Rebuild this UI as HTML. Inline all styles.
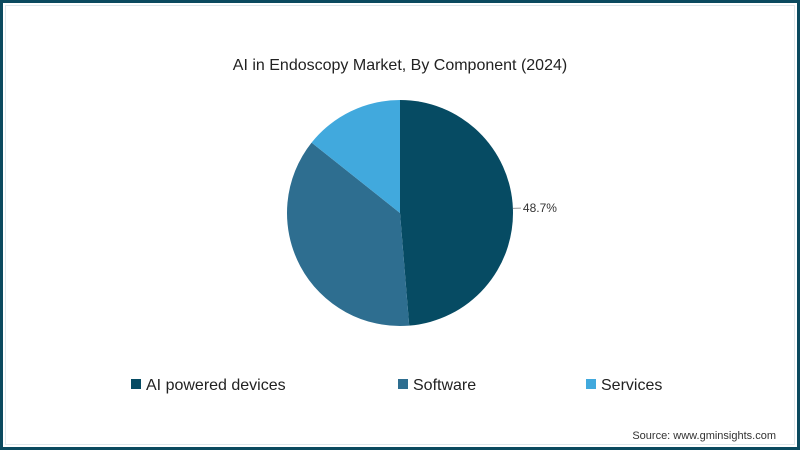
<!DOCTYPE html>
<html><head><meta charset="utf-8"><style>
body{margin:0;background:#fff}
#f{position:relative;width:800px;height:450px;box-sizing:border-box;border:3px solid #0b4a5f;background:#fff;font-family:"Liberation Sans",sans-serif;overflow:hidden}
#inner{position:absolute;left:2px;top:2px;right:2px;bottom:2px;border:1px solid #dfe8ec}
</style></head><body>
<div id="f">
<div id="inner"></div>
<svg id="s" width="794" height="444" style="position:absolute;left:0;top:0">
<text x="397" y="67" text-anchor="middle" font-size="16" fill="#222">AI in Endoscopy Market, By Component (2024)</text>
<g id="slices"></g>
<text x="773" y="436" text-anchor="end" font-size="11" fill="#333">Source: www.gminsights.com</text>
</svg>
</div>
<script>
const categories=["AI powered devices","Software","Services"];
const values=[48.7,37.0,14.3];
const labels=["48.7%","",""];
const colors=["#064b63","#2e6e90","#41a9dd"];
const cx=397,cy=210,r=113;
const svg=document.getElementById('s'),g=document.getElementById('slices');
const NS="http://www.w3.org/2000/svg";
const total=values.reduce((a,b)=>a+b,0);
let a0=0;
function pt(a,rr){return [cx+rr*Math.sin(a),cy-rr*Math.cos(a)];}
values.forEach((v,i)=>{
 const a1=a0+v/total*2*Math.PI;
 const p0=pt(a0,r),p1=pt(a1,r);
 const p=document.createElementNS(NS,'path');
 p.setAttribute('d',`M${cx},${cy}L${p0[0]},${p0[1]}A${r},${r} 0 ${a1-a0>Math.PI?1:0} 1 ${p1[0]},${p1[1]}Z`);
 p.setAttribute('fill',colors[i]);
 
 
 g.appendChild(p);
 if(labels[i]){
  const m=(a0+a1)/2,q=pt(m,r),q2=pt(m,r+6);
  const l=document.createElementNS(NS,'line');
  l.setAttribute('x1',q[0]);l.setAttribute('y1',q[1]);l.setAttribute('x2',q2[0]+2);l.setAttribute('y2',q2[1]);
  l.setAttribute('stroke','#999');
  
  
  g.appendChild(l);
  const t=document.createElementNS(NS,'text');
  t.setAttribute('x',q2[0]+4);t.setAttribute('y',q2[1]+4);t.setAttribute('font-size','12');t.setAttribute('fill','#333');
  t.textContent=labels[i];
  
  
  g.appendChild(t);
 }
 a0=a1;
});
const lx=[128,395,583];
categories.forEach((c,i)=>{
 const rc=document.createElementNS(NS,'rect');
 rc.setAttribute('x',lx[i]);rc.setAttribute('y',376);rc.setAttribute('width',10);rc.setAttribute('height',10);rc.setAttribute('fill',colors[i]);
 
 
 svg.appendChild(rc);
 const t=document.createElementNS(NS,'text');
 t.setAttribute('x',lx[i]+15);t.setAttribute('y',387);t.setAttribute('font-size','16');t.setAttribute('fill','#222');
 t.textContent=c;
 
 
 svg.appendChild(t);
});
</script>
</body></html>
